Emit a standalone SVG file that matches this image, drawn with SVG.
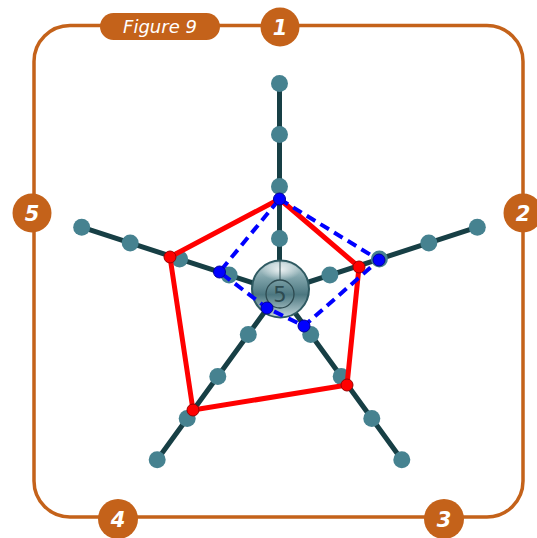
<svg xmlns="http://www.w3.org/2000/svg" width="537" height="538" viewBox="0 0 537 538">
<defs>
<style>
.frame{fill:none;stroke:#c4621a;stroke-width:3.5}
.badge{fill:#c4621a}
.lbl{fill:#ffffff;font-family:"DejaVu Sans","Liberation Sans",sans-serif;font-style:italic;font-weight:bold;font-size:21px;text-anchor:middle}
.fig{fill:#ffffff;font-family:"DejaVu Sans","Liberation Sans",sans-serif;font-style:italic;font-size:18px;text-anchor:middle}
.arm{stroke:#173f45;stroke-width:5;stroke-linecap:round}
.tn{fill:#468290}
.red{fill:none;stroke:#ff0000;stroke-width:5;stroke-linejoin:round}
.blue{fill:none;stroke:#0000ff;stroke-width:4;stroke-dasharray:10 6}
.rn{fill:#ff0000;stroke:#990000;stroke-width:1}
.bn{fill:#0000ff;stroke:#000099;stroke-width:1}
</style>
<linearGradient id="sph" x1="0" y1="0" x2="0" y2="1">
<stop offset="0" stop-color="#c6d8db"/>
<stop offset="0.3" stop-color="#7fa3aa"/>
<stop offset="0.6" stop-color="#4c7780"/>
<stop offset="1" stop-color="#c2d6d9"/>
</linearGradient>
<radialGradient id="hl" cx="0.5" cy="0.3" r="0.5">
<stop offset="0" stop-color="#ffffff" stop-opacity="0.8"/>
<stop offset="1" stop-color="#ffffff" stop-opacity="0"/>
</radialGradient>
</defs>
<g id="frame">
<rect class="frame" x="34" y="25.5" width="489" height="491.5" rx="36"/>
</g>
<g id="label-figure">
<rect class="badge" x="100" y="13" width="120" height="27" rx="13.5"/>
<text class="fig" x="160" y="33">Figure 9</text>
</g>
<g id="badge-1"><circle class="badge" cx="280" cy="27" r="19.5"/><text class="lbl" x="280" y="34.5">1</text></g>
<g id="badge-2"><circle class="badge" cx="523" cy="213" r="19.5"/><text class="lbl" x="523" y="220.5">2</text></g>
<g id="badge-3"><circle class="badge" cx="444" cy="519" r="20"/><text class="lbl" x="444" y="526.5">3</text></g>
<g id="badge-4"><circle class="badge" cx="118" cy="519" r="20"/><text class="lbl" x="118" y="526.5">4</text></g>
<g id="badge-5"><circle class="badge" cx="32" cy="213" r="19.5"/><text class="lbl" x="32" y="220.5">5</text></g>
<g id="connectors">
<line class="arm" x1="279.5" y1="291.5" x2="279.5" y2="83.5"/>
<line class="arm" x1="279.5" y1="291.5" x2="477.3" y2="227.2"/>
<line class="arm" x1="279.5" y1="291.5" x2="401.8" y2="459.8"/>
<line class="arm" x1="279.5" y1="291.5" x2="157.2" y2="459.8"/>
<line class="arm" x1="279.5" y1="291.5" x2="81.7" y2="227.2"/>
</g>
<g id="arm-nodes">
<circle class="tn" cx="279.5" cy="238.5" r="8.5"/><circle class="tn" cx="279.5" cy="186.5" r="8.5"/><circle class="tn" cx="279.5" cy="134.5" r="8.5"/><circle class="tn" cx="279.5" cy="83.5" r="8.5"/>
<circle class="tn" cx="329.9" cy="275.1" r="8.5"/><circle class="tn" cx="379.4" cy="259.1" r="8.5"/><circle class="tn" cx="428.8" cy="243" r="8.5"/><circle class="tn" cx="477.3" cy="227.2" r="8.5"/>
<circle class="tn" cx="229.1" cy="275.1" r="8.5"/><circle class="tn" cx="179.6" cy="259.1" r="8.5"/><circle class="tn" cx="130.2" cy="243" r="8.5"/><circle class="tn" cx="81.7" cy="227.2" r="8.5"/>
<circle class="tn" cx="310.7" cy="334.4" r="8.5"/><circle class="tn" cx="341.2" cy="376.4" r="8.5"/><circle class="tn" cx="371.8" cy="418.5" r="8.5"/><circle class="tn" cx="401.8" cy="459.8" r="8.5"/>
<circle class="tn" cx="248.3" cy="334.4" r="8.5"/><circle class="tn" cx="217.8" cy="376.4" r="8.5"/><circle class="tn" cx="187.2" cy="418.5" r="8.5"/><circle class="tn" cx="157.2" cy="459.8" r="8.5"/>
</g>
<g id="center">
<circle cx="280.5" cy="289" r="28.5" fill="url(#sph)" stroke="#2f5a62" stroke-width="2"/>
<ellipse cx="280.5" cy="274" rx="20" ry="11" fill="url(#hl)"/>
<line x1="280" y1="261" x2="280" y2="280" stroke="#2d4a50" stroke-width="1"/>
<circle cx="280" cy="294" r="14" fill="none" stroke="#2d4a50" stroke-width="1.3"/>
<text x="280" y="302" fill="#2d4a50" font-family="DejaVu Sans, sans-serif" font-size="21" text-anchor="middle">5</text>
</g>
<g id="red-pentagon">
<polygon class="red" points="279.5,199 359,267 347,385 193,410 170,257"/>
</g>
<g id="blue-pentagon">
<polygon class="blue" points="279.5,199 379,260 304,326 267,308 219.5,272"/>
</g>
<g id="red-nodes">
<circle class="rn" cx="359" cy="267" r="6"/><circle class="rn" cx="347" cy="385" r="6"/><circle class="rn" cx="193" cy="410" r="6"/><circle class="rn" cx="170" cy="257" r="6"/>
</g>
<g id="blue-nodes">
<circle class="bn" cx="279.5" cy="199" r="6"/><circle class="bn" cx="379" cy="260" r="6"/><circle class="bn" cx="304" cy="326" r="6"/><circle class="bn" cx="267" cy="308" r="6"/><circle class="bn" cx="219.5" cy="272" r="6"/>
</g>
</svg>
